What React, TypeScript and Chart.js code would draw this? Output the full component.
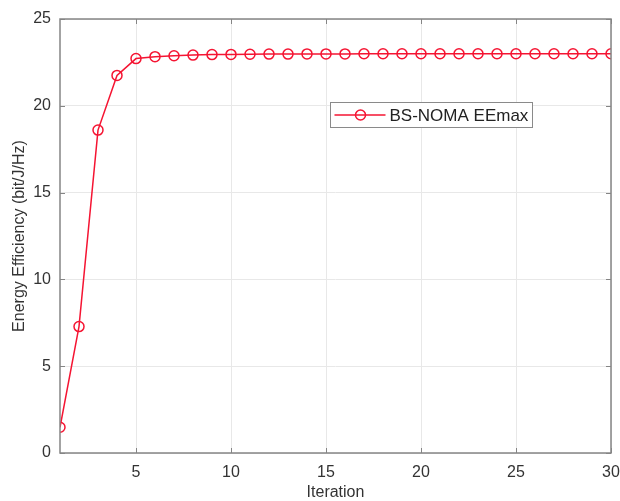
import React, { useEffect, useRef } from "react";
import { Chart, registerables } from "chart.js";

Chart.register(...registerables);

const iterations = Array.from({ length: 30 }, (_, i) => i + 1);
const eeValues = [
  1.48, 7.28, 18.6, 21.75, 22.72, 22.83, 22.88, 22.92, 22.95, 22.96,
  22.97, 22.98, 22.98, 22.99, 22.99, 22.99, 23.0, 23.0, 23.0, 23.0,
  23.0, 23.0, 23.0, 23.0, 23.0, 23.0, 23.0, 23.0, 23.0, 23.0,
];
const xTicks = [5, 10, 15, 20, 25, 30];
const yTicks = [0, 5, 10, 15, 20, 25];
const seriesLabel = "BS-NOMA EEmax";

const RED = "rgb(245,20,50)";
const AXIS = "#858585";
const TEXT = "#333333";
const FONT = "'Liberation Sans', Arial, sans-serif";

const framePlugin = {
  id: "frame",
  afterDraw(chart: any) {
    const { ctx, chartArea: a, scales } = chart;
    ctx.save();
    ctx.strokeStyle = AXIS;
    ctx.lineWidth = 1.5;
    ctx.strokeRect(a.left, a.top, a.right - a.left, a.bottom - a.top);
    ctx.lineWidth = 1;
    const tl = 5;
    for (const v of xTicks) {
      const x = Math.round(scales.x.getPixelForValue(v)) + 0.5;
      ctx.beginPath();
      ctx.moveTo(x, a.bottom);
      ctx.lineTo(x, a.bottom - tl);
      ctx.moveTo(x, a.top);
      ctx.lineTo(x, a.top + tl);
      ctx.stroke();
    }
    for (const v of yTicks) {
      const y = Math.round(scales.y.getPixelForValue(v)) + 0.5;
      ctx.beginPath();
      ctx.moveTo(a.left, y);
      ctx.lineTo(a.left + tl, y);
      ctx.moveTo(a.right, y);
      ctx.lineTo(a.right - tl, y);
      ctx.stroke();
    }
    // legend
    const lx = 330.5, ly = 102.5, lw = 202, lh = 25;
    ctx.fillStyle = "#ffffff";
    ctx.fillRect(lx, ly, lw, lh);
    ctx.strokeStyle = "#8a8a8a";
    ctx.lineWidth = 1;
    ctx.strokeRect(lx, ly, lw, lh);
    const cy = ly + lh / 2;
    ctx.strokeStyle = RED;
    ctx.lineWidth = 1.5;
    ctx.beginPath();
    ctx.moveTo(lx + 4, cy);
    ctx.lineTo(lx + 55, cy);
    ctx.stroke();
    ctx.beginPath();
    ctx.arc(lx + 30, cy, 5, 0, Math.PI * 2);
    ctx.stroke();
    ctx.fillStyle = "#222222";
    ctx.font = `17px ${FONT}`;
    ctx.textBaseline = "middle";
    ctx.textAlign = "left";
    ctx.fillText(seriesLabel, lx + 59, cy + 1);
    ctx.restore();
  },
};

export default function App() {
  const ref = useRef<HTMLCanvasElement>(null);
  useEffect(() => {
    document.body.style.margin = "0";
    const chart = new Chart(ref.current!, {
      type: "line",
      data: {
        datasets: [
          {
            label: seriesLabel,
            data: iterations.map((x, i) => ({ x, y: eeValues[i] })),
            borderColor: RED,
            borderWidth: 1.5,
            pointStyle: "circle",
            pointRadius: 5,
            pointBorderWidth: 1.5,
            pointBorderColor: RED,
            pointBackgroundColor: "rgba(0,0,0,0)",
            tension: 0,
          },
        ],
      },
      options: {
        animation: false,
        responsive: false,
        layout: { padding: { top: 19, right: 9, left: 0, bottom: 0 } },
        plugins: {
          legend: { display: false },
          tooltip: { enabled: false },
        },
        scales: {
          x: {
            type: "linear",
            min: 1,
            max: 30,
            afterBuildTicks: (s: any) => {
              s.ticks = xTicks.map((v) => ({ value: v }));
            },
            afterFit: (s: any) => {
              s.height = 48;
              s.paddingLeft = 0;
              s.paddingRight = 0;
            },
            grid: { color: "#e8e8e8", lineWidth: 1, drawTicks: false },
            border: { display: false },
            ticks: {
              color: TEXT,
              font: { family: FONT, size: 16 },
              padding: 10,
              maxRotation: 0,
            },
            title: {
              display: true,
              text: "Iteration",
              color: TEXT,
              font: { family: FONT, size: 16, lineHeight: 1 },
              padding: { top: 0, bottom: 0 },
            },
          },
          y: {
            type: "linear",
            min: 0,
            max: 25,
            afterBuildTicks: (s: any) => {
              s.ticks = yTicks.map((v) => ({ value: v }));
            },
            afterFit: (s: any) => {
              s.width = 60;
              s.paddingTop = 0;
              s.paddingBottom = 0;
            },
            grid: { color: "#e8e8e8", lineWidth: 1, drawTicks: false },
            border: { display: false },
            ticks: {
              color: TEXT,
              font: { family: FONT, size: 16 },
              padding: 9,
            },
            title: {
              display: true,
              text: "Energy Efficiency (bit/J/Hz)",
              color: TEXT,
              font: { family: FONT, size: 16, lineHeight: 1 },
              padding: { top: 12, bottom: 0 },
            },
          },
        },
      },
      plugins: [framePlugin],
    });
    return () => chart.destroy();
  }, []);
  return (
    <div style={{ width: 620, height: 501, background: "#fff" }}>
      <canvas ref={ref} width={620} height={501} />
    </div>
  );
}
